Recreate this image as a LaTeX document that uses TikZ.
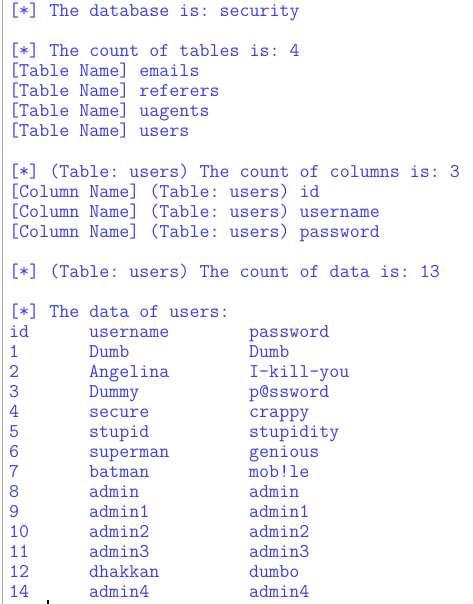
\documentclass[tikz,border=0pt]{standalone}
\usepackage{fontspec}
\definecolor{termblue}{RGB}{60,60,240}
\definecolor{edgegray}{RGB}{170,170,170}
\begin{document}
\frenchspacing
\begin{tikzpicture}[x=1pt,y=-1pt,
  term/.style={anchor=base west,inner sep=0pt,text=termblue,font=\ttfamily\fontsize{19.45}{20}\selectfont\frenchspacing}]
\useasboundingbox (0,0) rectangle (473,604);
\fill[white] (0,0) rectangle (473,604);
\fill[edgegray] (2,0) rectangle (3.2,604);
% header lines
\node[term] (l0) at (9,17) {[*] The database is: security};
\node[term] (l2) at (9,57) {[*] The count of tables is: 4};
\node[term] (l3) at (9,77) {[Table Name] emails};
\node[term] (l4) at (9,97) {[Table Name] referers};
\node[term] (l5) at (9,117) {[Table Name] uagents};
\node[term] (l6) at (9,137) {[Table Name] users};
\node[term] (l8) at (9,177) {[*] (Table: users) The count of columns is: 3};
\node[term] (l9) at (9,197) {[Column Name] (Table: users) id};
\node[term] (l10) at (9,217) {[Column Name] (Table: users) username};
\node[term] (l11) at (9,237) {[Column Name] (Table: users) password};
\node[term] (l13) at (9,277) {[*] (Table: users) The count of data is: 13};
\node[term] (l15) at (9,317) {[*] The data of users:};
% table
\foreach \i/\a/\b/\c in {0/id/username/password,1/1/Dumb/Dumb,2/2/Angelina/I-kill-you,3/3/Dummy/p@ssword,4/4/secure/crappy,5/5/stupid/stupidity,6/6/superman/genious,7/7/batman/mob!le,8/8/admin/admin,9/9/admin1/admin1,10/10/admin2/admin2,11/11/admin3/admin3,12/12/dhakkan/dumbo,13/14/admin4/admin4}{
  \node[term] (id\i) at (9,{337+20*\i}) {\a};
  \node[term] (un\i) at (89,{337+20*\i}) {\b};
  \node[term] (pw\i) at (249,{337+20*\i}) {\c};
}
\fill[black] (47,600) rectangle (49,604);
\end{tikzpicture}
\end{document}
